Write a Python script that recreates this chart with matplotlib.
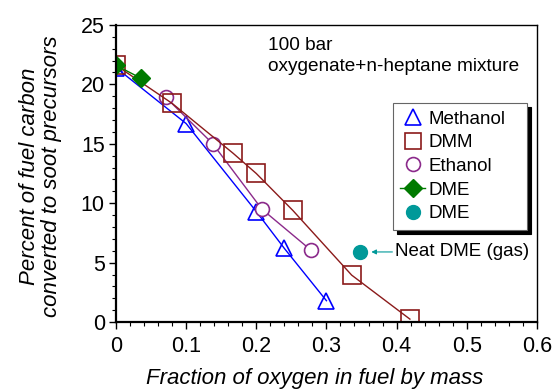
import matplotlib
matplotlib.use("Agg")
import matplotlib.pyplot as plt
from matplotlib.lines import Line2D
from matplotlib.ticker import MultipleLocator

plt.rcParams["font.family"] = ["Liberation Sans", "DejaVu Sans"]

# data
methanol_x = [0.0, 0.1, 0.2, 0.24, 0.30]
methanol_y = [21.4, 16.7, 9.3, 6.2, 1.8]

dmm_x = [0.0, 0.08, 0.167, 0.20, 0.252, 0.336, 0.419]
dmm_y = [21.6, 18.4, 14.2, 12.5, 9.4, 3.95, 0.25]

ethanol_x = [0.071, 0.138, 0.208, 0.278]
ethanol_y = [18.9, 15.0, 9.5, 6.05]

dme_x = [0.0, 0.036]
dme_y = [21.6, 20.5]

neat_x = [0.348]
neat_y = [5.9]

BLUE = "#0000ff"
DRED = "#8b1a1a"
PURP = "#8b2a8b"
GREEN = "#007a00"
TEAL = "#009999"

fig = plt.figure(figsize=(5.56, 3.89), dpi=100)
ax = fig.add_axes([0.2086, 0.172, 0.757, 0.764])

ax.plot(methanol_x, methanol_y, color=BLUE, lw=1.0, marker="^", ms=12,
        mfc="none", mec=BLUE, mew=1.2)
ax.plot(ethanol_x, ethanol_y, color=PURP, lw=1.0, marker="o", ms=10,
        mfc="white", mec=PURP, mew=1.2)
ax.plot(dmm_x, dmm_y, color=DRED, lw=1.0, marker="s", ms=12.5,
        mfc="none", mec=DRED, mew=1.2)
ax.plot(dme_x, dme_y, color=GREEN, lw=1.0, marker="D", ms=9,
        mfc=GREEN, mec=GREEN)
ax.plot(neat_x, neat_y, ls="none", marker="o", ms=10, mfc=TEAL, mec=TEAL)

ax.annotate("Neat DME (gas)", xy=(neat_x[0] + 0.016, neat_y[0]),
            xytext=(neat_x[0] + 0.05, neat_y[0]), va="center", ha="left",
            fontsize=13.5,
            arrowprops=dict(arrowstyle="-|>", color=TEAL, lw=0.8,
                            mutation_scale=7, shrinkA=0, shrinkB=0))

ax.text(0.362, 0.958, "100 bar\noxygenate+n-heptane mixture",
        transform=ax.transAxes, va="top", ha="left", fontsize=13.7,
        linespacing=1.3)

handles = [
    Line2D([], [], ls="none", marker="^", ms=12, mfc="none", mec=BLUE, mew=1.2),
    Line2D([], [], ls="none", marker="s", ms=11, mfc="none", mec=DRED, mew=1.2),
    Line2D([], [], ls="none", marker="o", ms=10, mfc="none", mec=PURP, mew=1.2),
    Line2D([], [], color=GREEN, lw=1.0, marker="D", ms=9, mfc=GREEN, mec=GREEN),
    Line2D([], [], ls="none", marker="o", ms=10, mfc=TEAL, mec=TEAL),
]
labels = ["Methanol", "DMM", "Ethanol", "DME", "DME"]
leg = ax.legend(handles, labels, loc="upper left",
                bbox_to_anchor=(0.658, 0.31, 0.318, 0.427), mode="expand",
                fontsize=13.5, frameon=True, fancybox=False, handlelength=1.3,
                handletextpad=0.2, labelspacing=0.35, borderpad=0.4,
                borderaxespad=0,
                shadow={"color": "black", "alpha": 1.0, "ox": 3, "oy": -3})
leg.get_frame().set_edgecolor("#666666")
leg.get_frame().set_linewidth(0.8)

ax.set_xlim(0, 0.6)
ax.set_ylim(0, 25)
ax.xaxis.set_major_locator(MultipleLocator(0.1))
ax.xaxis.set_minor_locator(MultipleLocator(0.02))
ax.yaxis.set_major_locator(MultipleLocator(5))
ax.yaxis.set_minor_locator(MultipleLocator(1))
ax.xaxis.set_major_formatter(plt.FuncFormatter(lambda v, p: "0" if v == 0 else f"{v:.1f}"))

ax.tick_params(which="major", length=5, width=1, labelsize=15.5, direction="out")
ax.tick_params(which="minor", length=3, width=0.8, direction="out")
ax.tick_params(axis="x", pad=5)
ax.tick_params(axis="y", pad=3)

for s in ["left", "bottom"]:
    ax.spines[s].set_linewidth(1.6)
for s in ["top", "right"]:
    ax.spines[s].set_linewidth(1.0)

ax.set_xlabel("Fraction of oxygen in fuel by mass", fontsize=16, style="italic")
ax.xaxis.set_label_coords(0.473, -0.155)
ax.set_ylabel("Percent of fuel carbon\nconverted to soot precursors", fontsize=16,
              style="italic", linespacing=1.05)
ax.yaxis.set_label_coords(-0.128, 0.49)

fig.savefig("out.png", dpi=100, facecolor="white")
